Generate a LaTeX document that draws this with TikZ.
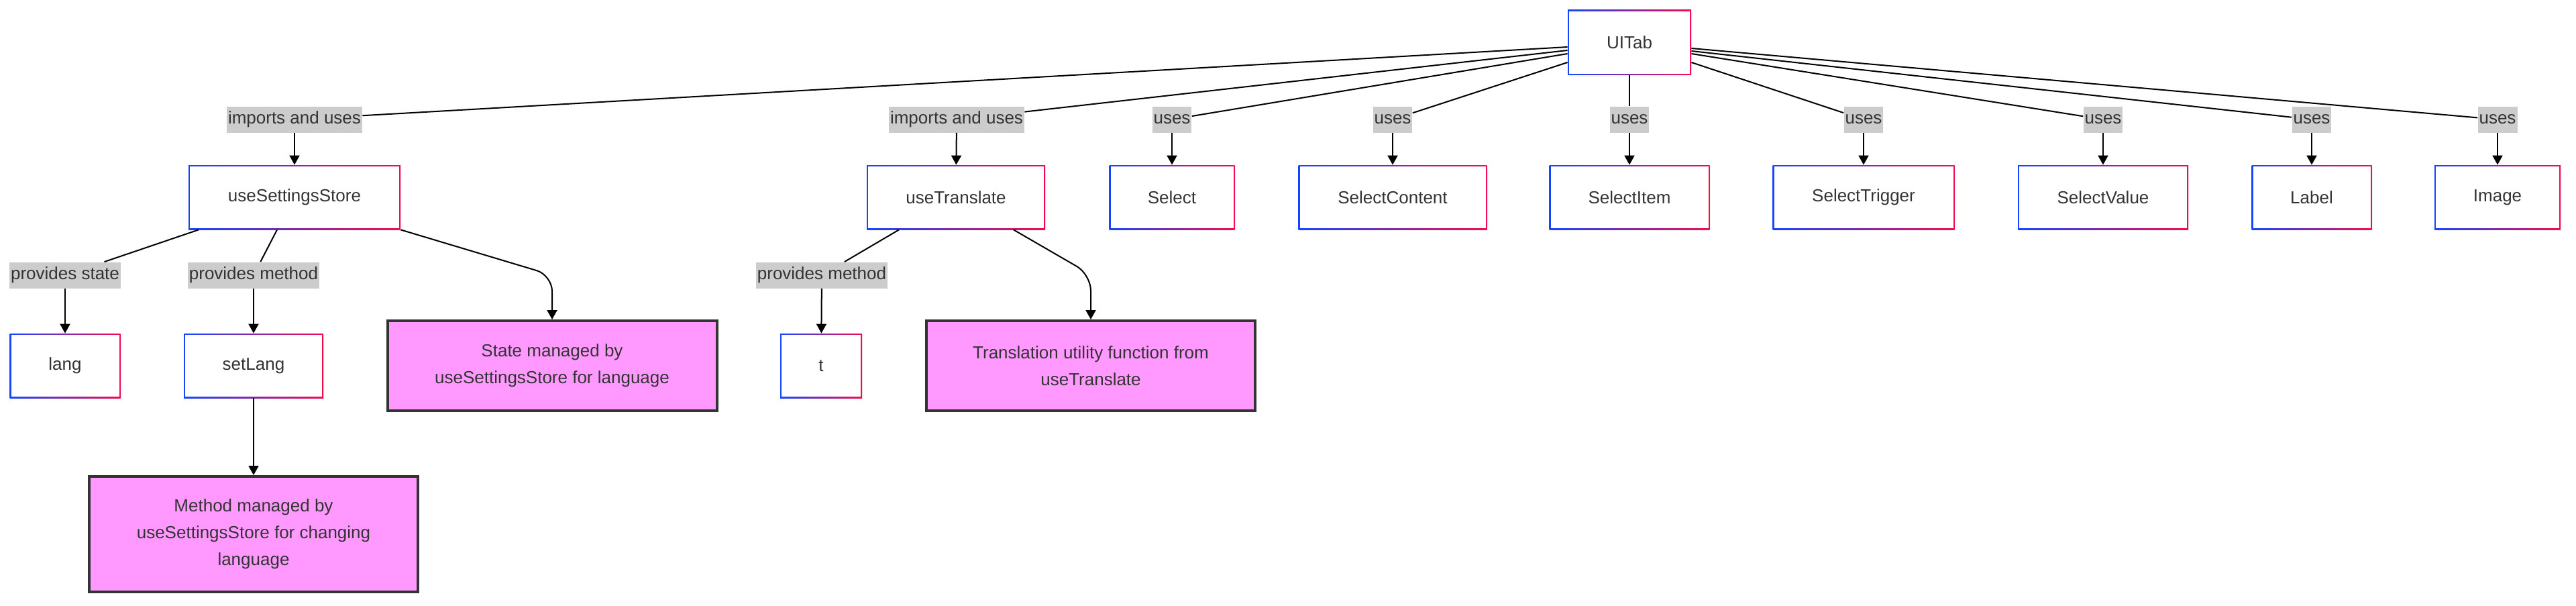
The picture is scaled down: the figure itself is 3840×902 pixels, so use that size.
\documentclass[tikz,border=0pt]{standalone}
\usepackage{fontspec}
\setmainfont{Liberation Sans}
\usetikzlibrary{arrows.meta,shadows}
\definecolor{gblue}{RGB}{20,70,255}
\definecolor{gred}{RGB}{245,10,80}
\definecolor{txt}{RGB}{51,51,51}
\definecolor{lblgray}{RGB}{204,204,204}
\definecolor{pinkfill}{RGB}{255,153,255}
\definecolor{darkborder}{RGB}{51,51,51}
\begin{document}
\begin{tikzpicture}[x=0.5pt,y=-0.5pt,
  every node/.style={font=\fontsize{13}{20}\selectfont, text=txt},
  gbox/.style={rectangle, inner sep=0pt, minimum height=48pt, align=center,
    fill=white,
    drop shadow={shadow xshift=0.6pt, shadow yshift=-1.2pt, opacity=0.10},
    path picture={
      \shade[left color=gblue, right color=gred] (path picture bounding box.south west) rectangle (path picture bounding box.north east);
      \fill[white] ([shift={(1pt,1pt)}]path picture bounding box.south west) rectangle ([shift={(-1pt,-1pt)}]path picture bounding box.north east);
    }},
  notebox/.style={rectangle, inner sep=0pt, fill=pinkfill, draw=darkborder, line width=2pt, align=center,
    drop shadow={shadow xshift=0.6pt, shadow yshift=-1.2pt, opacity=0.10}},
  elabel/.style={rectangle, fill=lblgray, inner xsep=1pt, inner ysep=0pt, minimum height=19.5pt},
  conn/.style={line width=1pt, draw=black},
  arr/.style={conn, -{Triangle[length=7pt,width=7.5pt]}},
]
\useasboundingbox (0,0) rectangle (3840,902);

% main nodes
\node[gbox, minimum width=92pt, minimum height=48.5pt] (uitab) at (2429,63) {UITab};
\node[gbox, minimum width=158pt] (uss) at (439,294) {useSettingsStore};
\node[gbox, minimum width=133pt] (ut) at (1425,294) {useTranslate};
\node[gbox, minimum width=93.5pt] (sel) at (1747,294) {Select};
\node[gbox, minimum width=140.5pt] (sc) at (2076,294) {SelectContent};
\node[gbox, minimum width=119.5pt] (si) at (2429,294) {SelectItem};
\node[gbox, minimum width=135.5pt] (st) at (2778,294) {SelectTrigger};
\node[gbox, minimum width=127pt] (sv) at (3135,294) {SelectValue};
\node[gbox, minimum width=89.5pt] (lab) at (3446,294) {Label};
\node[gbox, minimum width=94pt] (img) at (3723,294) {Image};
\node[gbox, minimum width=82.5pt] (lang) at (97,545) {lang};
\node[gbox, minimum width=104pt] (setlang) at (378,545) {setLang};
\node[gbox, minimum width=61pt] (t) at (1224,545) {t};
\node[notebox, minimum width=245.5pt, minimum height=67pt] (smb) at (823,545) {State managed by\\useSettingsStore for language};
\node[notebox, minimum width=245pt, minimum height=67pt] (tr) at (1626,545) {Translation utility function from\\useTranslate};
\node[notebox, minimum width=245pt, minimum height=86pt] (mmb) at (378,796) {Method managed by\\useSettingsStore for changing\\language};

% edge labels
\node[elabel] (l1) at (439,178) {imports and uses};
\node[elabel] (l2) at (1426,178) {imports and uses};
\node[elabel] (l3) at (1747,178) {uses};
\node[elabel] (l4) at (2076,178) {uses};
\node[elabel] (l5) at (2429,178) {uses};
\node[elabel] (l6) at (2778,178) {uses};
\node[elabel] (l7) at (3135,178) {uses};
\node[elabel] (l8) at (3446,178) {uses};
\node[elabel] (l9) at (3723,178) {uses};
\node[elabel] (l10) at (97,410) {provides state};
\node[elabel] (l11) at (378,410) {provides method};
\node[elabel] (l12) at (1225,410) {provides method};

% connectors from UITab
\draw[conn] ([shift={(0,7)}]uitab.west) -- (l1);
\draw[conn] ([shift={(0,12)}]uitab.west) -- (l2);
\draw[conn] ([shift={(0,17)}]uitab.west) -- (l3);
\draw[conn] ([shift={(0,30)}]uitab.west) -- (l4);
\draw[conn] (uitab.south) -- (l5);
\draw[conn] ([shift={(0,30)}]uitab.east) -- (l6);
\draw[conn] ([shift={(0,17)}]uitab.east) -- (l7);
\draw[conn] ([shift={(0,13)}]uitab.east) -- (l8);
\draw[conn] ([shift={(0,9)}]uitab.east) -- (l9);

\draw[arr] (l1) -- (uss);
\draw[arr] (l2) -- (ut);
\draw[arr] (l3) -- (sel);
\draw[arr] (l4) -- (sc);
\draw[arr] (l5) -- (si);
\draw[arr] (l6) -- (st);
\draw[arr] (l7) -- (sv);
\draw[arr] (l8) -- (lab);
\draw[arr] (l9) -- (img);

% useSettingsStore children
\draw[conn] ([shift={(-143,0)}]uss.south) -- (l10);
\draw[arr] (l10) -- (lang);
\draw[conn] ([shift={(-26,0)}]uss.south) -- (l11);
\draw[arr] (l11) -- (setlang);
\coordinate (c1) at (823,410);
\draw[arr, rounded corners=12pt] (uss.south east) -- (c1) -- (smb.north);
\draw[arr] (setlang) -- (mmb);

% useTranslate children
\draw[conn] ([shift={(-85,0)}]ut.south) -- (l12);
\draw[arr] (l12) -- (t);
\coordinate (c2) at (1626,409);
\draw[arr, rounded corners=12pt] ([shift={(86,0)}]ut.south) -- (c2) -- (tr.north);
\end{tikzpicture}
\end{document}
